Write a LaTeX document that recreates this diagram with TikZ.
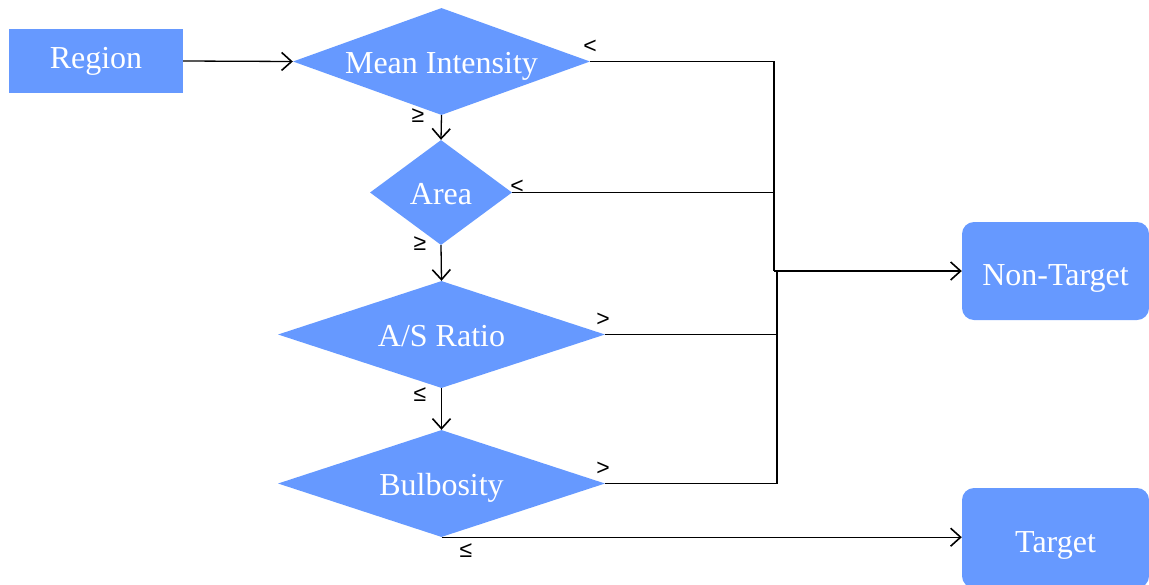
\documentclass[tikz,border=0pt]{standalone}
\usepackage{fontspec}
\setmainfont{Liberation Serif}
\newfontfamily\symfont{Liberation Sans}
\usetikzlibrary{shapes.geometric,arrows.meta}
\definecolor{boxblue}{HTML}{6699FF}
\tikzset{
  box/.style={fill=boxblue,draw=none,text=white,inner sep=0pt,font=\fontsize{32}{36}\selectfont},
  endbox/.style={box,rounded corners=12pt,text height=36pt,text depth=7pt},
  dia/.style={diamond,fill=boxblue,draw=none,text=white,inner sep=0pt,font=\fontsize{32}{36}\selectfont,text height=31pt,text depth=7pt},
  conn/.style={line width=1.3pt,black},
  arr/.style={conn,-{Straight Barb[length=10pt,width=18pt,line width=1.6pt]}},
  sym/.style={font=\symfont\fontsize{23}{25}\selectfont,inner sep=0pt,text=black}
}
\newcommand{\ztxt}[1]{\makebox[0pt]{#1}}
\begin{document}
\begin{tikzpicture}[x=1pt,y=-1pt]
\useasboundingbox (0,0) rectangle (1149,584);
\node[box,minimum width=174pt,minimum height=64pt] (region) at (96,61) {\ztxt{Region}};
\node[dia,minimum width=297pt,minimum height=107pt] (mean) at (441.5,61.5) {\ztxt{Mean Intensity}};
\node[dia,minimum width=142pt,minimum height=105pt] (area) at (441,192.5) {\ztxt{Area}};
\node[dia,minimum width=327pt,minimum height=107pt] (ratio) at (441.5,334.5) {\ztxt{A/S Ratio}};
\node[dia,minimum width=327pt,minimum height=107pt] (bulb) at (441.5,483.5) {\ztxt{Bulbosity}};
\node[endbox,minimum width=187pt,minimum height=98pt] (nontarget) at (1055.5,271) {\ztxt{Non-Target}};
\node[endbox,minimum width=187pt,minimum height=100pt] (target) at (1055.5,538) {\ztxt{Target}};
\coordinate (j) at (774,271);
\draw[arr] (region.east) -- (mean.west);
\draw[arr] (mean.south) -- (area.north);
\draw[arr] (area.south) -- (ratio.north);
\draw[arr] (ratio.south) -- (bulb.north);
\draw[arr] (bulb.south) -- (target.west |- bulb.south);
\draw[conn] (mean.east) -| (j);
\draw[conn] (area.east) -- (area.east -| j);
\draw[conn] (ratio.east) -- (777,334.5) -- (777,271);
\draw[conn] (bulb.east) -- (777,483.5) -- (777,271);
\draw[arr] (j) -- (nontarget.west);
\node[sym] (l1) at (418,116) {≥};
\node[sym] (l2) at (420,244) {≥};
\node[sym] (l3) at (420,395) {≤};
\node[sym] (l4) at (466,551) {≤};
\node[sym] (l5) at (590,47) {<};
\node[sym] (l6) at (517,187) {<};
\node[sym] (l7) at (603,320) {>};
\node[sym] (l8) at (603,469) {>};
\end{tikzpicture}
\end{document}
